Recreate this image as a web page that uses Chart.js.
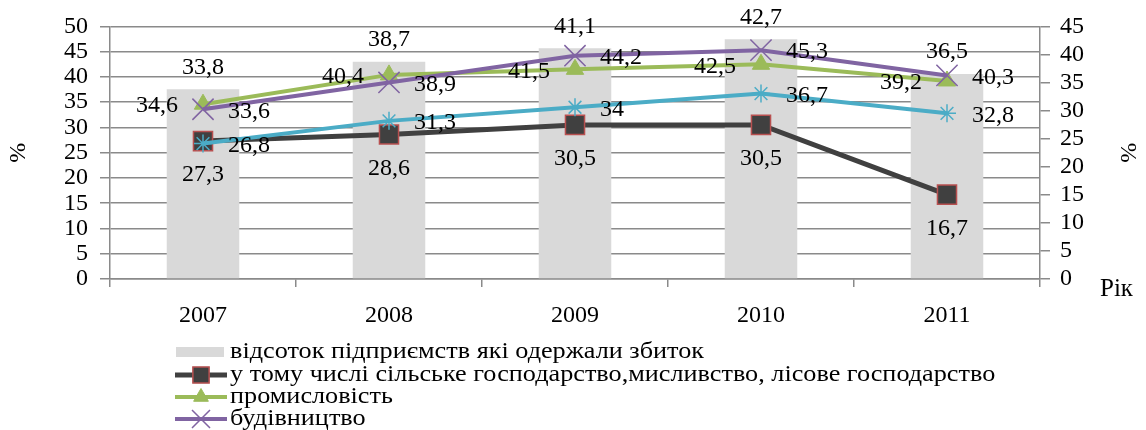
<!DOCTYPE html>
<html>
<head>
<meta charset="utf-8">
<script src="https://cdn.jsdelivr.net/npm/chart.js@4.4.1/dist/chart.umd.min.js"></script>
<style>
  body { margin: 0; background: #fff; }
  canvas { display: block; }
</style>
</head>
<body>
<canvas id="grafico" width="1146" height="430"></canvas>
<script>
const roky = ['2007', '2008', '2009', '2010', '2011']
const zbytkovi = [33.8, 38.7, 41.1, 42.7, 36.5]
const silske = [27.3, 28.6, 30.5, 30.5, 16.7]
const promyslovist = [34.6, 40.4, 41.5, 42.5, 39.2]
const budivnytstvo = [33.6, 38.9, 44.2, 45.3, 40.3]
const inshi = [26.8, 31.3, 34, 36.7, 32.8]
const tickyLivi = [0, 5, 10, 15, 20, 25, 30, 35, 40, 45, 50]
const tickyPravi = [0, 5, 10, 15, 20, 25, 30, 35, 40, 45]

const shryft = 'Liberation Serif, Times New Roman, serif'
const sirij = '#8a8a8a'
const koma = v => String(v).replace('.', ',')

// підписи значень біля точок
const pidpysy = {
  id: 'pidpysy',
  afterDatasetsDraw(chart) {
    const ctx = chart.ctx
    ctx.save()
    ctx.font = '24px ' + shryft
    ctx.fillStyle = '#000'
    ctx.textBaseline = 'middle'
    chart.data.datasets.forEach((ds, i) => {
      const meta = chart.getDatasetMeta(i)
      meta.data.forEach((el, j) => {
        const t = koma(ds.data[j])
        let x = el.x, y = el.y
        if (ds.misce === 'verkh') { ctx.textAlign = 'center'; y = el.y - 22 }
        else if (ds.misce === 'nyz') { ctx.textAlign = 'center'; y = el.y + 34 }
        else if (ds.misce === 'liva') { ctx.textAlign = 'right'; x = el.x - 25; y = el.y + 2 }
        else { ctx.textAlign = 'left'; x = el.x + 25; y = el.y + 2 }
        ctx.fillText(t, x, y)
      })
    })
    ctx.restore()
  }
}

// легенда стовпчиком під графіком + підпис осі "Рік"
const lehenda = {
  id: 'lehenda',
  afterDraw(chart) {
    const ctx = chart.ctx
    ctx.save()
    ctx.font = '25px ' + shryft
    ctx.fillStyle = '#000'
    ctx.textBaseline = 'middle'
    ctx.textAlign = 'left'
    ctx.fillText('Рік', 1100, 289)
    ctx.font = '23px ' + shryft
    const ryadky = [352, 375, 397, 419]
    chart.data.datasets.forEach((ds, i) => {
      if (ds.bezLehendy) return
      const y = ryadky[i]
      if (ds.type === 'bar') {
        ctx.fillStyle = ds.backgroundColor
        ctx.fillRect(176, y - 5, 48, 10)
      } else {
        ctx.strokeStyle = ds.borderColor
        ctx.lineWidth = ds.borderWidth
        ctx.beginPath()
        ctx.moveTo(175, y)
        ctx.lineTo(227, y)
        ctx.stroke()
        ctx.fillStyle = ds.pointBackgroundColor
        ctx.strokeStyle = ds.pointBorderColor
        ctx.lineWidth = ds.pointBorderWidth
        Chart.helpers.drawPoint(ctx, {
          pointStyle: ds.pointStyle,
          radius: ds.pointRadius * 0.85,
          borderWidth: ds.pointBorderWidth,
          rotation: 0
        }, 201, y)
      }
      ctx.fillStyle = '#000'
      ctx.save()
      ctx.translate(230, y)
      ctx.scale(1.14, 1)
      ctx.fillText(ds.label, 0, 0)
      ctx.restore()
    })
    ctx.restore()
  }
}

const ctx = document.getElementById('grafico').getContext('2d')
const grafik = new Chart(ctx, {
  data: {
    labels: roky,
    datasets: [{
      type: 'bar',
      label: 'відсоток підприємств які одержали збиток',
      data: zbytkovi,
      yAxisID: 'y1',
      backgroundColor: '#d9d9d9',
      barPercentage: 0.39,
      categoryPercentage: 1,
      order: 10,
      misce: 'verkh'
    }, {
      type: 'line',
      label: 'у тому числі сільське господарство,мисливство, лісове господарство',
      data: silske,
      yAxisID: 'y',
      borderColor: '#404040',
      borderWidth: 5,
      pointStyle: 'rect',
      pointRadius: 13.5,
      pointBackgroundColor: '#404040',
      pointBorderColor: '#b85050',
      pointBorderWidth: 1.5,
      order: 2,
      misce: 'nyz'
    }, {
      type: 'line',
      label: 'промисловість',
      data: promyslovist,
      yAxisID: 'y',
      borderColor: '#9bbb59',
      borderWidth: 4,
      pointStyle: 'triangle',
      pointRadius: 10,
      pointBackgroundColor: '#9bbb59',
      pointBorderColor: '#9bbb59',
      pointBorderWidth: 1,
      order: 4,
      misce: 'liva'
    }, {
      type: 'line',
      label: 'будівництво',
      data: budivnytstvo,
      yAxisID: 'y',
      borderColor: '#8064a2',
      borderWidth: 4,
      pointStyle: 'crossRot',
      pointRadius: 15,
      pointBackgroundColor: '#8064a2',
      pointBorderColor: '#8064a2',
      pointBorderWidth: 1.5,
      order: 3,
      misce: 'prava'
    }, {
      type: 'line',
      label: 'інші',
      data: inshi,
      yAxisID: 'y',
      borderColor: '#4bacc6',
      borderWidth: 4,
      pointStyle: 'star',
      pointRadius: 9,
      pointBackgroundColor: '#4bacc6',
      pointBorderColor: '#4bacc6',
      pointBorderWidth: 1.5,
      order: 1,
      misce: 'prava',
      bezLehendy: true
    }]
  },
  options: {
    responsive: false,
    animation: false,
    layout: { padding: { top: 26, left: 0, right: 0, bottom: 0 } },
    scales: {
      x: {
        offset: true,
        grid: { drawOnChartArea: false, offset: true, tickLength: 8, color: sirij, lineWidth: 1.5 },
        border: { color: sirij, width: 1.5 },
        ticks: { font: { family: shryft, size: 24 }, color: '#000', padding: 14 },
        afterFit: s => { s.height = 151 }
      },
      y: {
        position: 'left',
        min: 0,
        max: 50,
        afterBuildTicks: s => { s.ticks = tickyLivi.map(v => ({ value: v })) },
        ticks: { font: { family: shryft, size: 24 }, color: '#000', padding: 12, autoSkip: false },
        grid: { color: sirij, lineWidth: 1.5, tickLength: 10 },
        border: { color: sirij, width: 1.5 },
        title: { display: true, text: '%', font: { family: shryft, size: 24 }, color: '#000' },
        afterFit: s => { s.width = 110 }
      },
      y1: {
        position: 'right',
        min: 0,
        max: 45,
        afterBuildTicks: s => { s.ticks = tickyPravi.map(v => ({ value: v })) },
        ticks: { font: { family: shryft, size: 24 }, color: '#000', padding: 10, autoSkip: false },
        grid: { drawOnChartArea: false, color: sirij, lineWidth: 1.5, tickLength: 10 },
        border: { color: sirij, width: 1.5 },
        title: { display: true, text: '%', font: { family: shryft, size: 24 }, color: '#000' },
        afterFit: s => { s.width = 106 }
      }
    },
    plugins: {
      legend: { display: false },
      tooltip: { enabled: false }
    }
  },
  plugins: [pidpysy, lehenda]
})
</script>
</body>
</html>
